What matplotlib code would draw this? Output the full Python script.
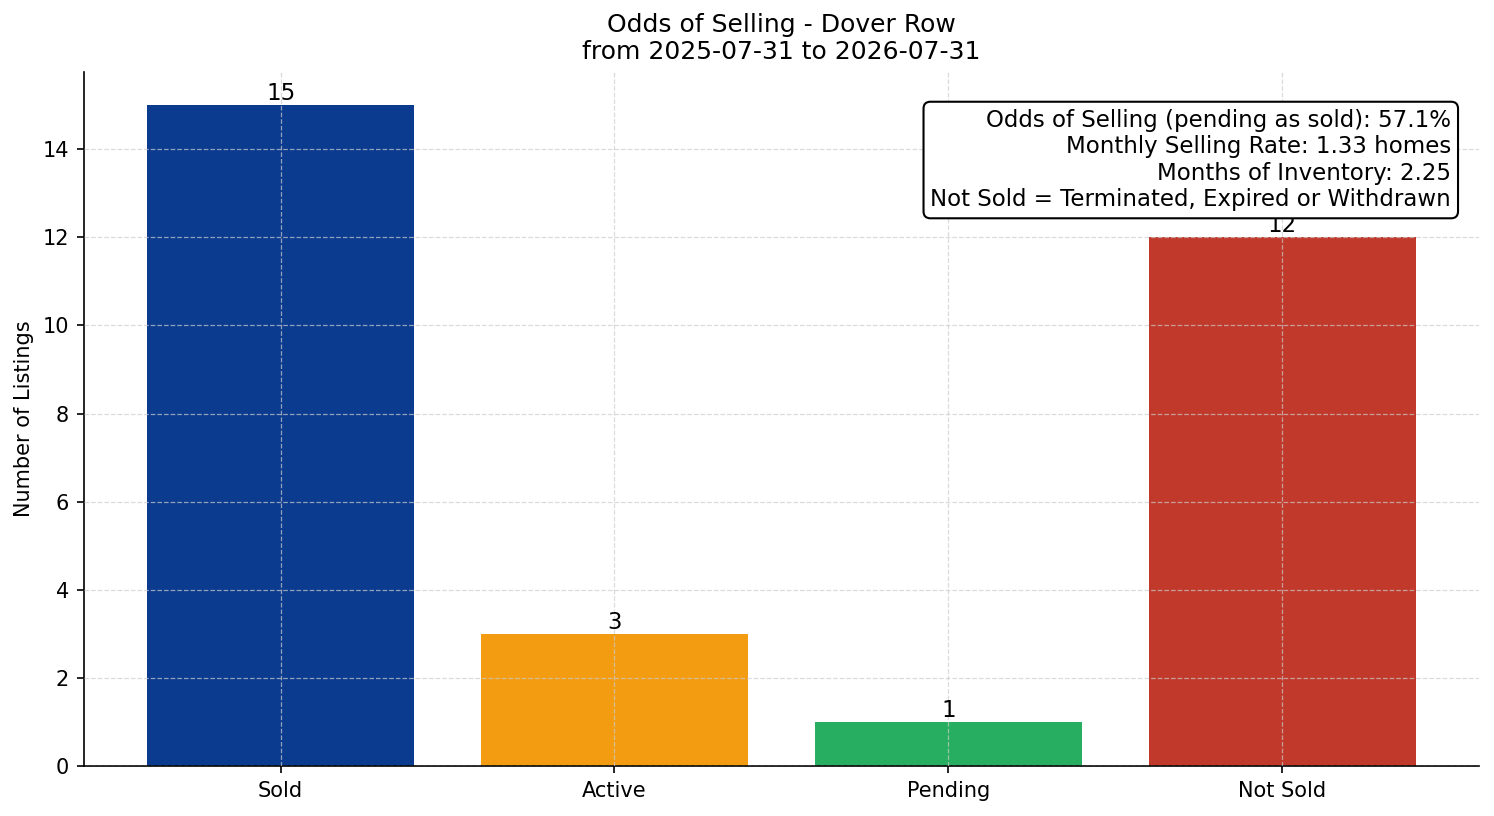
import matplotlib
matplotlib.use("Agg")
import matplotlib.pyplot as plt

categories = ["Sold", "Active", "Pending", "Not Sold"]
counts = [15, 3, 1, 12]
colors = ["#0b3b8f", "#f39c12", "#27ae60", "#c0392b"]
title = "Odds of Selling - Dover Row\nfrom 2025-07-31 to 2026-07-31"
info_lines = [
    "Odds of Selling (pending as sold): 57.1%",
    "Monthly Selling Rate: 1.33 homes",
    "Months of Inventory: 2.25",
    "Not Sold = Terminated, Expired or Withdrawn",
]

fig, ax = plt.subplots(figsize=(9.96, 5.44), dpi=150)
fig.subplots_adjust(left=0.056, right=0.99, top=0.912, bottom=0.061)

bars = ax.bar(categories, counts, color=colors, width=0.8, zorder=2)
for b, v in zip(bars, counts):
    ax.text(b.get_x() + b.get_width() / 2, v, str(v), ha="center", va="bottom", fontsize=11, zorder=4)

ax.grid(True, linestyle="--", linewidth=0.6, color="#cccccc", alpha=0.7, zorder=3)
ax.set_axisbelow(False)
ax.spines["top"].set_visible(False)
ax.spines["right"].set_visible(False)
ax.set_ylabel("Number of Listings")
ax.set_title(title, fontsize=12)
ax.set_ylim(0, 15.75)

ax.text(0.98, 0.947, "\n".join(info_lines), transform=ax.transAxes, ha="right", va="top",
        fontsize=11, zorder=5,
        bbox=dict(boxstyle="round,pad=0.3", facecolor="white", edgecolor="black"))

fig.savefig("out.png", dpi=150)
